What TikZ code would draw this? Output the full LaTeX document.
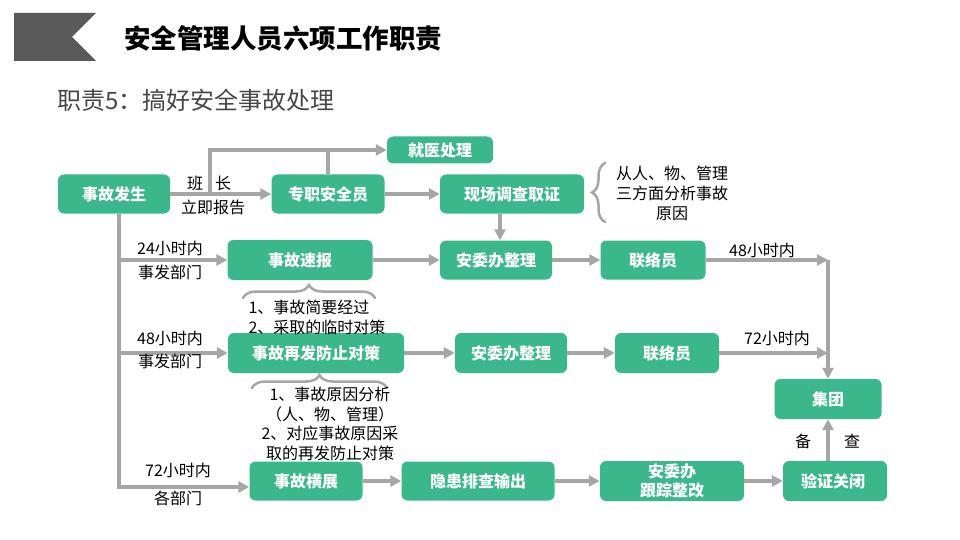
\documentclass[tikz,border=0pt]{standalone}
\usepackage{fontspec}
\setmainfont{Noto Sans CJK SC}
\usetikzlibrary{arrows.meta,decorations.pathreplacing}
\definecolor{boxgreen}{RGB}{59,183,140}
\definecolor{linegray}{RGB}{166,166,166}
\definecolor{bannergray}{RGB}{89,89,89}
\definecolor{subgray}{RGB}{70,70,70}
\tikzset{
	box/.style={fill=boxgreen, rounded corners=6pt, text=white, align=center,
		font=\bfseries\fontsize{16}{19}\selectfont, inner sep=0pt},
	arr/.style={draw=linegray, line width=3.5pt, -{Triangle[length=11pt,width=11pt]}},
	link/.style={draw=linegray, line width=3.5pt},
	curly/.style={draw=linegray, line width=2.5pt, line cap=round, decorate,
		decoration={brace, amplitude=13pt}},
	note/.style={font=\fontsize{16}{20}\selectfont, inner sep=0pt},
}
\begin{document}
	\begin{tikzpicture}[x=1pt, y=-1pt]
		\useasboundingbox (0,0) rectangle (960,540);
		\fill[bannergray] (14,13) -- (96,13) -- (72,37) -- (96,61) -- (14,61) -- cycle;
		\node[font=\bfseries\fontsize{26.5}{30}\selectfont, anchor=west, inner sep=0pt]
			(title) at (124,38) {安全管理人员六项工作职责};
		\node[font=\fontsize{24}{28}\selectfont, text=subgray, anchor=west, inner sep=0pt]
			(subtitle) at (57,100) {职责5：搞好安全事故处理};
		\foreach\n/\x/\y/\w/\h/\t in{
			fs/114/194/112pt/39pt/事故发生,
			zz/328/194/113pt/39pt/专职安全员,
			jy/440/150/106pt/27pt/就医处理,
			xc/512/194/144pt/39pt/现场调查取证,
			sb/300/260/145pt/40pt/事故速报,
			aw1/496/260/112pt/39pt/安委办整理,
			ll1/653/260/105pt/39pt/联络员,
			zf/316/353/176pt/40pt/事故再发防止对策,
			aw2/511/353/112pt/40pt/安委办整理,
			ll2/667/353/104pt/40pt/联络员,
			jt/828/399/107pt/40pt/集团,
			hz/306/481/113pt/39pt/事故横展,
			yh/478/481/153pt/39pt/隐患排查输出,
			gz/672/481/144pt/40pt/{安委办\\跟踪整改},
			yg/835/481/104pt/40pt/验证关闭
		}{
			\node[box, minimum width=\w, minimum height=\h] (\n) at (\x,\y) {\t};
		}
		\coordinate (lb) at (119,487);
		\coordinate (rt) at (828,260);
		\coordinate (bz) at (210,150);
		\foreach\a/\b in{fs/zz, zz/xc, sb/aw1, aw1/ll1, zf/aw2, aw2/ll2, hz/yh, yh/gz, gz/yg}
			\draw[arr] (\a) -- (\b);
		\draw[arr] (fs.east -| bz) |- (jy);
		\draw[link] (zz) -- (zz |- jy);
		\draw[arr] ([xshift=-12pt]xc.south) -- ([xshift=-12pt]xc.south |- aw1.north);
		\draw[arr] (fs.south -| lb) |- (hz.west |- lb);
		\draw[arr] (lb |- sb) -- (sb);
		\draw[arr] (lb |- zf) -- (zf);
		\draw[arr] (ll1) -- (ll1 -| rt);
		\draw[arr] (ll2) -- (ll2 -| rt);
		\draw[arr] (rt) -- (jt.north);
		\draw[arr] (yg.north -| jt) -- (jt.south);
		\draw[curly] (605,222) -- (605,163);
		\draw[curly] (243,298) -- (375,298);
		\draw[curly] (252,388) -- (387,388);
		\node[note] (bzz) at (209,183) {班\hspace{12pt}长};
		\node[note] (bzb) at (213,207) {立即报告};
		\node[note] (t24) at (170,248) {24小时内};
		\node[note] (d24) at (170,272) {事发部门};
		\node[note] (t48) at (170,338) {48小时内};
		\node[note] (d48) at (170,361) {事发部门};
		\node[note] (t72) at (178,470) {72小时内};
		\node[note] (d72) at (178,498) {各部门};
		\node[note] (h48) at (762,250) {48小时内};
		\node[note] (h72) at (777,338) {72小时内};
		\node[note] (bei) at (803,441) {备};
		\node[note] (cha) at (852,441) {查};
		\node[note, align=center] (why) at (672,193) {从人、物、管理\\三方面分析事故\\原因};
		\node[note, align=left] (nt1) at (317,317) {1、事故简要经过\\2、采取的临时对策};
		\node[note, align=center, font=\fontsize{16}{19.5}\selectfont]
			(nt2) at (330,424) {1、事故原因分析\\（人、物、管理）\\2、对应事故原因采\\取的再发防止对策};
	\end{tikzpicture}
\end{document}
